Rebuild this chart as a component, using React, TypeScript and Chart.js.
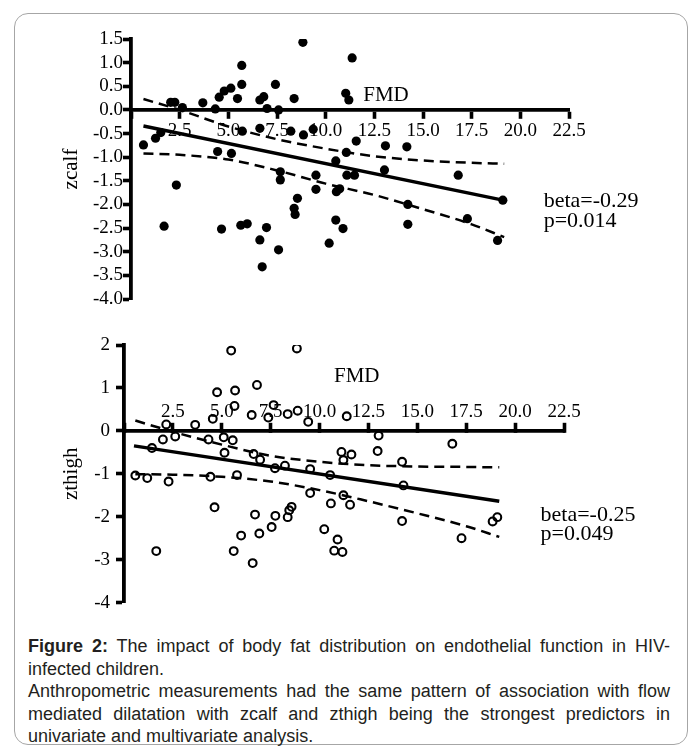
import React, { useEffect, useRef } from 'react';
import { Chart, registerables } from 'chart.js';

Chart.register(...registerables);

// ---------- data ----------
// Top panel: FMD (x) vs zcalf (y)
const zcalfPoints: [number, number][] = [
  [0.64, -0.74], [1.26, -0.6], [1.53, -0.48], [1.7, -2.46], [2.04, 0.16], [2.25, 0.16],
  [2.33, -1.59], [2.64, 0.05], [3.69, 0.15], [4.33, 0.02], [4.45, -0.88], [4.53, 0.27],
  [4.65, -2.52], [4.79, 0.4], [5.13, 0.46], [5.16, -0.92], [5.47, 0.24], [5.64, -2.44],
  [5.69, 0.94], [5.69, 0.54], [5.72, -0.45], [5.97, -2.41], [6.62, 0.21], [6.62, -0.39],
  [6.62, -2.75], [6.74, -3.32], [6.82, 0.28], [6.96, -2.49], [6.99, 0.03], [7.42, 0.54],
  [7.58, 0.0], [7.58, -2.96], [7.67, -1.31], [7.67, -1.48], [8.21, -0.45], [8.38, 0.24],
  [8.38, -2.08], [8.43, -2.21], [8.55, -1.87], [8.83, 1.43], [8.86, -0.53], [9.36, -0.41],
  [9.5, -1.38], [9.5, -1.68], [10.18, -2.82], [10.52, -1.08], [10.52, -2.33], [10.55, -1.73],
  [10.72, -1.67], [10.89, -2.51], [11.03, 0.35], [11.06, -0.9], [11.19, 0.21], [11.09, -1.38],
  [11.36, 1.1], [11.48, -1.38], [11.57, -0.66], [13.07, -0.76], [14.17, -0.78], [13.02, -1.27],
  [16.81, -1.38], [14.22, -2.0], [14.22, -2.42], [17.28, -2.3], [19.1, -1.91], [18.83, -2.76],
];
const zcalfFit: [number, number][] = [[0.64, -0.34], [19.1, -1.91]];
const zcalfUpper: [number, number][] = [
  [0.64, 0.23], [2.5, 0.0], [5, -0.35], [7.5, -0.62], [10, -0.82], [12.5, -0.98],
  [15, -1.07], [17.5, -1.12], [19.17, -1.14],
];
const zcalfLower: [number, number][] = [
  [0.64, -0.92], [2.5, -0.95], [5, -1.05], [7.5, -1.28], [10, -1.56], [12.5, -1.8],
  [15, -2.1], [17.5, -2.42], [19.17, -2.69],
];

// Bottom panel: FMD (x) vs zthigh (y)
const zthighPoints: [number, number][] = [
  [0.58, -1.04], [1.19, -1.1], [1.43, -0.4], [1.65, -2.8], [1.99, -0.2], [2.16, 0.15],
  [2.28, -1.18], [2.62, -0.13], [3.64, 0.14], [4.32, -0.2], [4.42, -1.07], [4.54, 0.28],
  [4.63, -1.78], [4.76, 0.9], [5.1, -0.15], [5.14, -0.51], [5.48, 1.87], [5.56, -0.22],
  [5.61, -2.8], [5.65, 0.58], [5.68, 0.94], [5.78, -1.03], [5.99, -2.44], [6.53, 0.37],
  [6.58, -3.08], [6.63, -0.54], [6.7, -1.95], [6.8, 1.07], [6.92, -2.39], [6.96, -0.67],
  [7.38, 0.31], [7.55, -2.24], [7.65, 0.6], [7.72, -0.87], [7.74, -1.98], [8.23, -0.81],
  [8.37, -2.01], [8.45, -1.85], [8.57, -1.77], [8.37, 0.39], [8.84, 1.92], [8.88, 0.47],
  [9.42, 0.21], [9.52, -0.89], [9.52, -1.45], [10.24, -2.29], [10.54, -1.03], [10.58, -1.69],
  [10.75, -2.79], [10.92, -2.53], [11.12, -0.49], [11.17, -2.82], [11.22, -0.68], [11.22, -1.5],
  [11.39, 0.34], [11.56, -1.72], [11.63, -0.55], [13.02, -0.11], [12.97, -0.47], [16.79, -0.3],
  [14.22, -0.72], [14.29, -1.27], [14.22, -2.1], [17.26, -2.5], [18.85, -2.11], [19.09, -2.01],
];
const zthighFit: [number, number][] = [[0.51, -0.35], [19.19, -1.64]];
const zthighUpper: [number, number][] = [
  [0.58, 0.24], [2.5, -0.02], [5, -0.32], [7.5, -0.58], [10, -0.72], [12.5, -0.8],
  [15, -0.83], [17.5, -0.84], [19.19, -0.85],
];
const zthighLower: [number, number][] = [
  [0.58, -1.01], [2.5, -1.02], [5, -1.07], [7.5, -1.18], [10, -1.38], [12.5, -1.64],
  [15, -1.92], [17.5, -2.22], [19.19, -2.47],
];

const xTitle = 'FMD';
const topYTitle = 'zcalf';
const bottomYTitle = 'zthigh';
const topStats = ['beta=-0.29', 'p=0.014'];
const bottomStats = ['beta=-0.25', 'p=0.049'];

// ---------- chart helpers ----------
const SERIF = '"Liberation Serif", "Times New Roman", serif';

const textPlugin = {
  id: 'textLabels',
  afterDraw(chart: any, _args: any, opts: any) {
    const ctx = chart.ctx;
    const xs = chart.scales.x;
    const ys = chart.scales.y;
    ctx.save();
    ctx.fillStyle = '#000';
    ctx.textBaseline = 'alphabetic';
    (opts.items || []).forEach((it: any) => {
      ctx.font = `${it.size}px ${SERIF}`;
      ctx.textAlign = it.align || 'left';
      ctx.fillText(it.text, xs.getPixelForValue(it.x), ys.getPixelForValue(it.y));
    });
    ctx.restore();
  },
};

const toXY = (arr: [number, number][]) => arr.map(([x, y]) => ({ x, y }));

function buildConfig(p: any) {
  return {
    type: 'scatter',
    data: {
      datasets: [
        {
          data: toXY(p.points),
          showLine: false,
          pointRadius: p.open ? 3.9 : 4.6,
          pointBorderWidth: p.open ? 2.1 : 0,
          pointBackgroundColor: p.open ? 'rgba(0,0,0,0)' : '#000',
          pointBorderColor: '#000',
        },
        {
          data: toXY(p.fit),
          showLine: true,
          borderColor: '#000',
          borderWidth: 3.4,
          pointRadius: 0,
        },
        {
          data: toXY(p.upper),
          showLine: true,
          borderColor: '#000',
          borderWidth: 2.5,
          borderDash: [10, 6],
          cubicInterpolationMode: 'monotone',
          pointRadius: 0,
        },
        {
          data: toXY(p.lower),
          showLine: true,
          borderColor: '#000',
          borderWidth: 2.5,
          borderDash: [10, 6],
          cubicInterpolationMode: 'monotone',
          pointRadius: 0,
        },
      ],
    },
    options: {
      animation: false,
      responsive: false,
      events: [],
      layout: { padding: p.padding },
      plugins: {
        legend: { display: false },
        tooltip: { enabled: false },
        textLabels: { items: p.labels },
      },
      scales: {
        x: {
          type: 'linear',
          min: 0,
          max: 22.5,
          position: { y: 0 },
          afterFit: (s: any) => {
            s.height = 0;
          },
          grid: {
            drawOnChartArea: false,
            drawTicks: true,
            tickLength: p.xTickLength,
            tickWidth: 3.6,
            tickColor: '#000',
          },
          border: { display: true, color: '#000', width: 3.8 },
          ticks: {
            stepSize: 2.5,
            autoSkip: false,
            maxRotation: 0,
            padding: p.xTickPadding,
            color: '#000',
            font: { family: SERIF, size: 19 },
            callback: (v: number) => (v === 0 ? '' : v.toFixed(1)),
          },
        },
        y: {
          type: 'linear',
          min: p.yMin,
          max: p.yMax,
          position: 'left',
          afterFit: (s: any) => {
            s.width = p.yWidth;
          },
          grid: {
            drawOnChartArea: false,
            drawTicks: true,
            tickLength: 8,
            tickWidth: 3.6,
            tickColor: '#000',
          },
          border: { display: true, color: '#000', width: 3.8 },
          ticks: {
            stepSize: p.yStep,
            autoSkip: false,
            padding: p.yTickPadding,
            color: '#000',
            font: { family: SERIF, size: 19 },
            callback: (v: number) => v.toFixed(p.yDecimals),
          },
          title: {
            display: true,
            text: p.yTitle,
            color: '#000',
            font: { family: SERIF, size: 21 },
            padding: { top: 4, bottom: 0 },
          },
        },
      },
    },
    plugins: [textPlugin],
  };
}

function ChartCanvas({ config, width, height, style }: any) {
  const ref = useRef<HTMLCanvasElement | null>(null);
  useEffect(() => {
    if (!ref.current) return;
    const chart = new Chart(ref.current, config);
    return () => chart.destroy();
  }, []);
  return (
    <canvas
      ref={ref}
      width={width}
      height={height}
      style={{ position: 'absolute', display: 'block', width, height, ...style }}
    />
  );
}

export default function App() {
  const topConfig = buildConfig({
    points: zcalfPoints,
    fit: zcalfFit,
    upper: zcalfUpper,
    lower: zcalfLower,
    open: false,
    padding: { left: 55, right: 127, top: 39, bottom: 21 },
    yWidth: 76,
    yMin: -4,
    yMax: 1.5,
    yStep: 0.5,
    yDecimals: 1,
    yTickPadding: 0,
    xTickLength: 7,
    xTickPadding: 3,
    yTitle: topYTitle,
    labels: [
      { text: xTitle, x: 13.1, y: 0.19, size: 21, align: 'center' },
      { text: topStats[0], x: 21.2, y: -2.05, size: 22, align: 'left' },
      { text: topStats[1], x: 21.2, y: -2.47, size: 22, align: 'left' },
    ],
  });
  const bottomConfig = buildConfig({
    points: zthighPoints,
    fit: zthighFit,
    upper: zthighUpper,
    lower: zthighLower,
    open: true,
    padding: { left: 55, right: 132, top: 25, bottom: 14 },
    yWidth: 69,
    yMin: -4,
    yMax: 2,
    yStep: 1,
    yDecimals: 0,
    yTickPadding: 6,
    xTickLength: -10,
    xTickPadding: -20,
    yTitle: bottomYTitle,
    labels: [
      { text: xTitle, x: 11.9, y: 1.13, size: 21, align: 'center' },
      { text: bottomStats[0], x: 21.3, y: -2.09, size: 22, align: 'left' },
      { text: bottomStats[1], x: 21.3, y: -2.55, size: 22, align: 'left' },
    ],
  });

  return (
    <div style={{ position: 'absolute', left: 0, top: 0, width: 696, height: 749, background: '#fff' }}>
      <div
        style={{
          position: 'absolute',
          left: 14,
          top: 13,
          width: 674,
          height: 732,
          boxSizing: 'border-box',
          border: '1px solid #a6a6a6',
          borderRadius: 14,
        }}
      />
      <div
        style={{
          position: 'absolute',
          left: 28,
          top: 635,
          width: 642,
          fontFamily: '"Liberation Sans", Arial, sans-serif',
          fontSize: 18,
          lineHeight: '22.5px',
          color: '#231f20',
          textAlign: 'justify',
        }}
      >
        <div>
          <b>Figure 2:</b> The impact of body fat distribution on endothelial function in HIV-infected children.
        </div>
        <div>
          Anthropometric measurements had the same pattern of association with flow mediated dilatation with zcalf
          and zthigh being the strongest predictors in univariate and multivariate analysis.
        </div>
      </div>
      <ChartCanvas config={topConfig} width={696} height={320} style={{ left: 0, top: 0 }} />
      <ChartCanvas config={bottomConfig} width={696} height={300} style={{ left: 0, top: 320 }} />
    </div>
  );
}
